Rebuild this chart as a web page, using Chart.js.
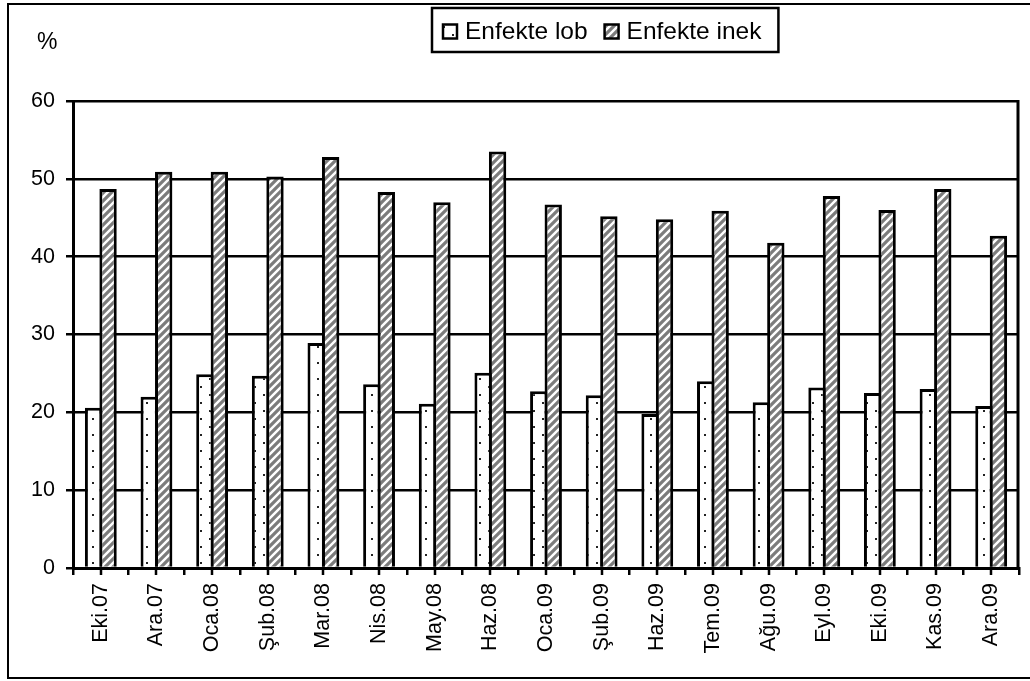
<!DOCTYPE html>
<html>
<head>
<meta charset="utf-8">
<script src="https://cdn.jsdelivr.net/npm/chart.js@4.4.1/dist/chart.umd.min.js"></script>
<style>
  html, body { margin: 0; padding: 0; background: #fff; }
  canvas { display: block; }
</style>
</head>
<body>
<canvas id="chart" width="1030" height="681"></canvas>
<script>
// Monthly share of infected udder lobes and infected cows (%)
const months = ['Eki.07', 'Ara.07', 'Oca.08', 'Şub.08', 'Mar.08', 'Nis.08', 'May.08', 'Haz.08',
                'Oca.09', 'Şub.09', 'Haz.09', 'Tem.09', 'Ağu.09', 'Eyl.09', 'Eki.09', 'Kas.09', 'Ara.09'];
const infectedLobe = [20.6, 22.0, 24.9, 24.7, 28.9, 23.6, 21.1, 25.1, 22.7, 22.2, 19.8, 24.0, 21.3, 23.2, 22.5, 23.0, 20.8];
const infectedCow  = [48.7, 50.9, 50.9, 50.3, 52.8, 48.3, 47.0, 53.5, 46.7, 45.2, 44.8, 45.9, 41.8, 47.8, 46.0, 48.7, 42.7];
const yTickValues = [0, 10, 20, 30, 40, 50, 60];
const seriesNames = ['Enfekte lob', 'Enfekte inek'];
const unitLabel = '%';

const FONT = '"Liberation Sans", Arial, sans-serif';
Chart.defaults.font.family = FONT;
Chart.defaults.color = '#000';

// Fill patterns: sparse dots and grey diagonal hatching
function dotPattern() {
  const c = document.createElement('canvas');
  c.width = 18; c.height = 16;
  const g = c.getContext('2d');
  g.fillStyle = '#fff'; g.fillRect(0, 0, 18, 16);
  g.fillStyle = '#222';
  g.fillRect(2, 2, 2, 2);
  g.fillRect(11, 10, 2, 2);
  return g.createPattern(c, 'repeat');
}
function hatchPattern() {
  const s = 8;
  const c = document.createElement('canvas');
  c.width = s; c.height = s;
  const g = c.getContext('2d');
  g.fillStyle = '#fff'; g.fillRect(0, 0, s, s);
  g.strokeStyle = '#7c7c7c';
  g.lineWidth = 3.2;
  g.beginPath();
  g.moveTo(-1, s + 1); g.lineTo(s + 1, -1);
  g.moveTo(-2, 2); g.lineTo(2, -2);
  g.moveTo(s - 2, s + 2); g.lineTo(s + 2, s - 2);
  g.stroke();
  return g.createPattern(c, 'repeat');
}
const dots = dotPattern();
const hatch = hatchPattern();

// Frame, plot border, mid-category ticks, unit label and boxed legend
const decor = {
  id: 'decor',
  beforeDraw(chart) {
    const ctx = chart.ctx;
    ctx.save();
    ctx.fillStyle = '#fff';
    ctx.fillRect(0, 0, chart.width, chart.height);
    ctx.restore();
  },
  afterDraw(chart) {
    const { ctx, chartArea: a, scales: { x } } = chart;
    ctx.save();
    ctx.strokeStyle = '#000';
    ctx.fillStyle = '#000';

    // outer frame
    ctx.lineWidth = 2;
    ctx.strokeRect(8, 4, chart.width + 20, 674);

    // right edge of the plot area
    ctx.lineWidth = 3;
    ctx.beginPath();
    ctx.moveTo(a.right - 1, a.top - 1);
    ctx.lineTo(a.right - 1, a.bottom);
    ctx.stroke();

    // tick marks under each category centre
    ctx.lineWidth = 2.5;
    ctx.beginPath();
    chart.data.labels.forEach((_, i) => {
      const px = Math.round(x.getPixelForValue(i));
      ctx.moveTo(px, a.bottom);
      ctx.lineTo(px, a.bottom + 7);
    });
    ctx.stroke();

    // unit label above the value axis
    ctx.font = '23px ' + FONT;
    ctx.textAlign = 'left';
    ctx.textBaseline = 'middle';
    ctx.fillText(unitLabel, 37, 43);

    // legend
    const fills = [dots, hatch];
    const boxLeft = 432, boxTop = 8, boxH = 44;
    const midY = 31.5;
    ctx.font = '24.5px ' + FONT;
    let cx = boxLeft + 11;
    chart.data.datasets.forEach((ds, i) => {
      ctx.fillStyle = fills[i];
      ctx.fillRect(cx, midY - 7, 14, 14);
      ctx.lineWidth = 2.5;
      ctx.strokeRect(cx, midY - 7, 14, 14);
      ctx.fillStyle = '#000';
      ctx.fillText(ds.label, cx + 22, midY + 1);
      cx += 22 + ctx.measureText(ds.label).width + 17;
    });
    ctx.lineWidth = 2.5;
    ctx.strokeRect(boxLeft, boxTop, cx - boxLeft, boxH);
    ctx.restore();
  }
};

new Chart(document.getElementById('chart'), {
  type: 'bar',
  data: {
    labels: months,
    datasets: [
      { label: seriesNames[0], data: infectedLobe, backgroundColor: dots,
        borderColor: '#000', borderWidth: 3 },
      { label: seriesNames[1], data: infectedCow, backgroundColor: hatch,
        borderColor: '#000', borderWidth: 3 }
    ]
  },
  options: {
    responsive: false,
    animation: false,
    devicePixelRatio: 1,
    categoryPercentage: 0.52,
    barPercentage: 1.2,
    layout: { padding: { top: 101, left: 11, right: 11, bottom: 8 } },
    plugins: { legend: { display: false }, tooltip: { enabled: false } },
    scales: {
      x: {
        offset: true,
        grid: { display: true, offset: true, drawOnChartArea: false, drawTicks: true,
                tickLength: 7, color: '#000', lineWidth: 2.5 },
        border: { display: true, color: '#000', width: 3 },
        ticks: { minRotation: 90, maxRotation: 90, autoSkip: false,
                 font: { size: 21.5 }, color: '#000', padding: 8 },
        afterFit(s) { s.height = 105; }
      },
      y: {
        min: 0, max: 60,
        afterBuildTicks(s) { s.ticks = yTickValues.map(v => ({ value: v })); },
        grid: { color: '#000', lineWidth: 2.5, tickLength: 7 },
        border: { display: true, color: '#000', width: 3 },
        ticks: { font: { size: 21.5 }, color: '#000', padding: 11 },
        afterFit(s) { s.width = 62; }
      }
    }
  },
  plugins: [decor]
});
</script>
</body>
</html>
